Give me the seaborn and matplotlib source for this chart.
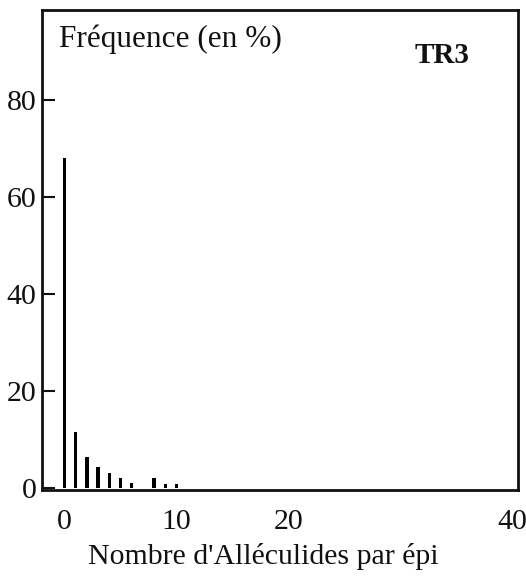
import matplotlib
matplotlib.use("Agg")
import matplotlib.pyplot as plt
import seaborn as sns

# Frequency (%) of ears by number of Alleculids, TR3
nombre = [0, 1, 2, 3, 4, 5, 6, 7, 8, 9, 10]
frequence = [68.0, 11.5, 6.3, 4.2, 3.1, 2.1, 1.0, 0.0, 2.1, 0.8, 0.8]
xticks = [0, 10, 20, 40]
yticks = [0, 20, 40, 60, 80]

sns.set_theme(style="white")
plt.rcParams['font.family'] = ['Liberation Serif', 'DejaVu Serif']

fig = plt.figure(figsize=(5.26, 5.81), dpi=100)
ax = fig.add_axes([0.08, 0.157, 0.905, 0.825])

sns.barplot(x=nombre, y=frequence, native_scale=True, width=0.3,
            color='black', linewidth=0, ax=ax)

ax.set_xlim(-2, 40.5)
ax.set_ylim(-0.4, 98.5)
ax.set_xticks(xticks)
ax.set_xticklabels([str(t) for t in xticks])
ax.set_yticks(yticks)
ax.set_yticklabels([str(t) for t in yticks])
ax.tick_params(axis='x', length=0, labelsize=21.5, pad=14, colors='#111111')
ax.tick_params(axis='y', direction='in', length=9, width=1.5, left=True,
               labelsize=21.5, pad=4, colors='#111111')

for side in ax.spines.values():
    side.set_visible(True)
    side.set_color('#111111')
    side.set_linewidth(2)

ax.set_xlabel("Nombre d'Alléculides par épi", fontsize=21.5, color='#111111')
ax.xaxis.set_label_coords(0.465, -0.112)
ax.set_ylabel('')

ax.text(0.035, 0.94, 'Fréquence (en %)', transform=ax.transAxes,
        fontsize=22.5, ha='left', va='center', color='#111111')
ax.text(0.84, 0.906, 'TR3', transform=ax.transAxes, fontsize=21,
        fontweight='bold', ha='center', va='center', color='#111111')

fig.savefig('out.png', dpi=100, facecolor='white')
